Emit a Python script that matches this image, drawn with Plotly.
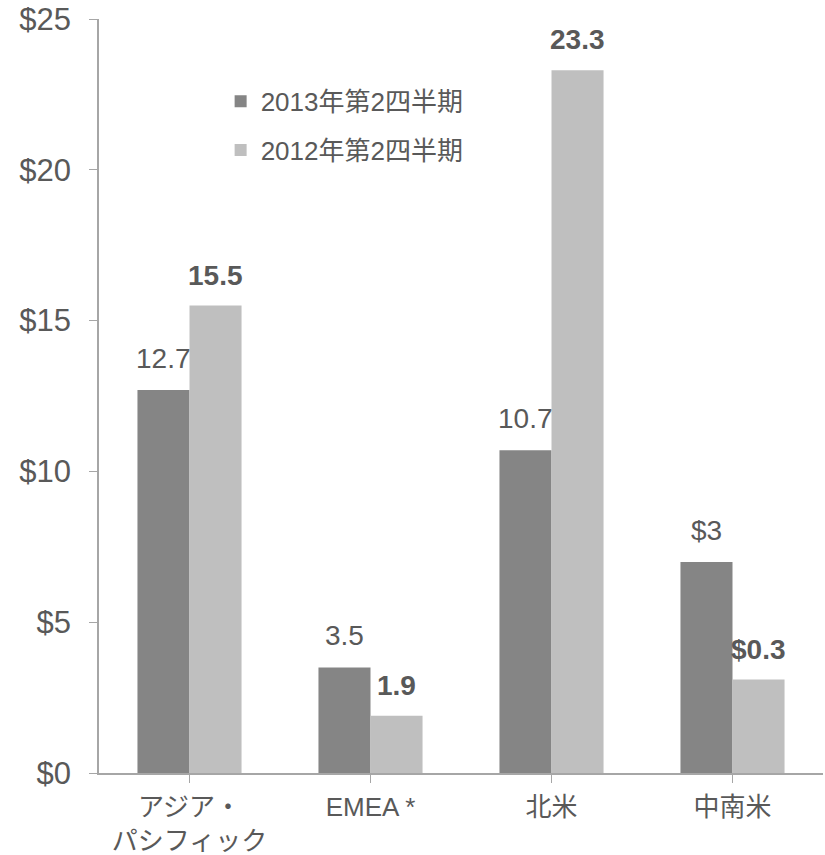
import plotly.graph_objects as go

categories = ["アジア・<br>パシフィック", "EMEA *", "北米", "中南米"]
series_names = ["2013年第2四半期", "2012年第2四半期"]
values_2013 = [12.7, 3.5, 10.7, 7.0]
values_2012 = [15.5, 1.9, 23.3, 3.1]
labels_2013 = ["12.7", "3.5", "10.7", "$3"]
labels_2012 = ["15.5", "1.9", "23.3", "$0.3"]
ytick_vals = [0, 5, 10, 15, 20, 25]
ytick_text = ["$0", "$5", "$10", "$15", "$20", "$25"]

colors = ["#858585", "#bfbfbf"]
text_color = "#595959"
axis_color = "#a6a6a6"
FONT = "Liberation Sans, Arial, Noto Sans CJK JP, sans-serif"
bargap = 0.425

fig = go.Figure()
for i, (name, vals) in enumerate(zip(series_names, [values_2013, values_2012])):
    fig.add_trace(go.Bar(
        x=list(range(len(categories))), y=vals, name=name,
        marker=dict(color=colors[i], line=dict(width=0)),
        legendgroup=f"g{i}",
    ))

half = (1 - bargap) / 4
annos = []
for i in range(len(categories)):
    annos.append(dict(x=i - half, y=values_2013[i], xref="x", yref="y",
                      text=labels_2013[i], showarrow=False, yanchor="bottom",
                      yshift=14, font=dict(size=28, color=text_color, family=FONT)))
    annos.append(dict(x=i + half, y=values_2012[i], xref="x", yref="y",
                      text=f"<b>{labels_2012[i]}</b>", showarrow=False, yanchor="bottom",
                      yshift=13, font=dict(size=28, color=text_color, family=FONT)))

fig.update_layout(
    width=825, height=855,
    margin=dict(l=99, r=2, t=19, b=82),
    plot_bgcolor="white", paper_bgcolor="white",
    barmode="group", bargap=bargap, bargroupgap=0,
    font=dict(family=FONT, color=text_color),
    annotations=annos,
    legend=dict(x=0.168, y=0.922, xanchor="left", yanchor="top",
                font=dict(size=26, color=text_color, family=FONT),
                traceorder="grouped", tracegroupgap=12,
                bgcolor="rgba(0,0,0,0)"),
    xaxis=dict(
        tickmode="array", tickvals=list(range(len(categories))), ticktext=categories,
        range=[-0.5, len(categories) - 0.5], automargin=False,
        showline=True, linecolor=axis_color, linewidth=1.5,
        ticks="outside", tickson="boundaries", ticklen=8, tickcolor=axis_color,
        tickfont=dict(size=26, color=text_color, family=FONT),
        ticklabelstandoff=2, ticklabeloverflow="allow",
        showgrid=False, zeroline=False,
    ),
    yaxis=dict(
        range=[0, 25], tickvals=ytick_vals, ticktext=ytick_text, automargin=False,
        showline=True, linecolor=axis_color, linewidth=1.5,
        ticks="outside", ticklen=8, tickcolor=axis_color,
        tickfont=dict(size=31, color=text_color, family=FONT),
        ticklabelstandoff=12, ticklabeloverflow="allow",
        showgrid=False, zeroline=False,
    ),
)

fig.write_html("out.html", config={"displayModeBar": False},
               post_script="document.body.style.margin='0';")
